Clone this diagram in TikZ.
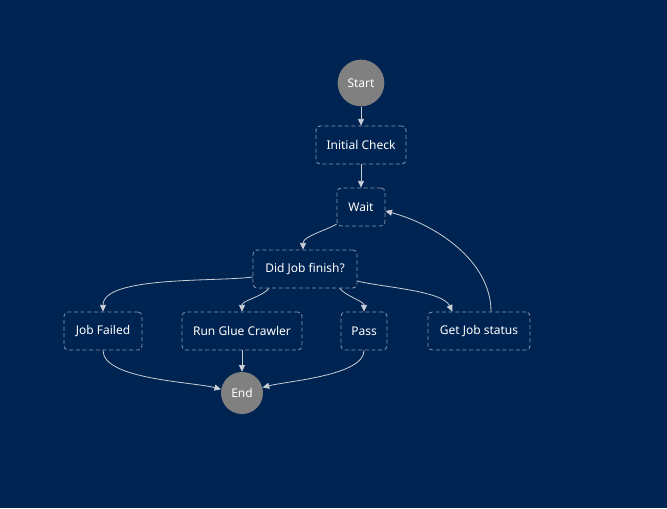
\documentclass[tikz,border=0pt]{standalone}
\usepackage{fontspec}
\setmainfont{Noto Sans}
\usepackage{xcolor}
\usetikzlibrary{shapes,arrows.meta,positioning,calc}

\definecolor{navy}{RGB}{0,36,82}
\definecolor{boxline}{RGB}{138,152,176}
\definecolor{edgeline}{RGB}{200,205,214}
\definecolor{endfill}{RGB}{128,128,128}

\begin{document}
\begin{tikzpicture}[
  x=0.75pt, y=-0.75pt,
  state/.style={rectangle, draw=boxline, dashed, dash pattern=on 3pt off 2pt,
                rounded corners=3pt, line width=0.6pt, align=center,
                font=\fontsize{9}{11}\selectfont, text=white,
                minimum height=28.5pt, inner sep=2pt},
  terminal/.style={circle, fill=endfill, draw=none, text=white,
                   font=\fontsize{9}{11}\selectfont, inner sep=0pt},
  edge/.style={draw=edgeline, line width=0.6pt,
               -{Triangle[length=5pt,width=4.5pt]}},
]
  % background and frame of the page
  \fill[navy] (0,0) rectangle (667,508);
  \useasboundingbox (0,0) rectangle (667,508);

  % states
  \node[terminal, minimum size=35pt] (start) at (361,83) {Start};
  \node[state, minimum width=67.5pt] (check) at (361,145) {Initial Check};
  \node[state, minimum width=36pt] (wait) at (361,207) {Wait};
  \node[state, minimum width=78pt] (finish) at (305,269) {Did Job finish?};
  \node[state, minimum width=58.5pt] (failed) at (103,331) {Job Failed};
  \node[state, minimum width=90pt] (crawler) at (242,331) {Run Glue Crawler};
  \node[state, minimum width=34.5pt] (pass) at (364,331) {Pass};
  \node[state, minimum width=76.5pt] (status) at (479,331) {Get Job status};
  \node[terminal, minimum size=31.5pt] (end) at (242,393) {End};

  % transitions
  \draw[edge] (start) -- (check);
  \draw[edge] (check) -- (wait);
  \draw[edge] (wait.215) to[out=210, in=90, looseness=0.8] ([xshift=-1.5pt]finish.north);
  \draw[edge] ([yshift=-6pt]finish.west) to[out=188, in=90, looseness=0.6] (failed.north);
  \draw[edge] ([xshift=-27pt]finish.south) to[out=-130, in=90, looseness=0.8] (crawler.north);
  \draw[edge] ([xshift=26pt]finish.south) to[out=-50, in=90, looseness=0.8] (pass.north);
  \draw[edge] ([yshift=-9pt]finish.east) to[out=-15, in=115, looseness=0.6] ([xshift=-20pt]status.north);
  \draw[edge] ([xshift=9pt]status.north) to[out=90, in=-15, looseness=0.9] ([yshift=-3pt]wait.east);
  \draw[edge] (failed.south) to[out=-90, in=165, looseness=0.6] (end.170);
  \draw[edge] (crawler) -- (end);
  \draw[edge] (pass.south) to[out=-90, in=15, looseness=0.6] (end.15);

\end{tikzpicture}
\end{document}
